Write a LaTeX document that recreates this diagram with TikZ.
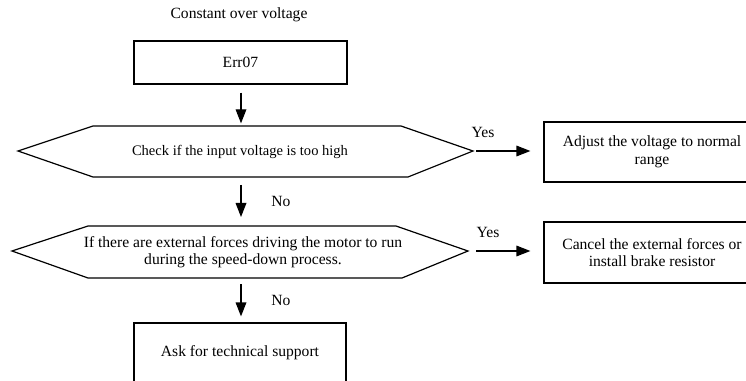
\documentclass[tikz,border=0pt]{standalone}
\usepackage{fontspec}
\setmainfont{Liberation Serif}
\usetikzlibrary{arrows.meta}
\tikzset{
  px/.style={x=0.75pt,y=-0.75pt},
  boxnode/.style={draw,line width=0.9pt,inner sep=0pt,align=center,font=\fontsize{11.7}{13.2}\selectfont},
  hexline/.style={draw,line width=0.9pt,line join=miter},
  txt/.style={inner sep=0pt,align=center,font=\fontsize{11.7}{13.2}\selectfont},
  flow/.style={line width=0.9pt,-{Triangle[length=10.5pt,width=8pt]}},
}
\begin{document}
\begin{tikzpicture}[px]
\useasboundingbox (0,0) rectangle (746,381);
\clip (0,0) rectangle (746,381);
% title
\node[txt] (title) at (239,15) {Constant over voltage};
% boxes
\node[boxnode,minimum width=159.75pt,minimum height=32.25pt] (b1) at (240.5,62.5) {Err07};
\node[boxnode,minimum width=162pt,minimum height=45pt] (b2) at (652,152) {Adjust the voltage to normal\\range};
\node[boxnode,minimum width=162pt,minimum height=45.75pt] (b3) at (652,252.5) {Cancel the external forces or\\install brake resistor};
\node[boxnode,minimum width=159pt,minimum height=45pt] (b4) at (240,353) {Ask for technical support};
% hexagon 1
\draw[hexline] (18,151) -- (93,126) -- (401,126) -- (473,151) -- (408,177) -- (93,177) -- cycle;
\node[txt,font=\fontsize{10.9}{12.5}\selectfont] (h1) at (240,152) {Check if the input voltage is too high};
\coordinate (h1t) at (241,126);
\coordinate (h1b) at (241,177);
\coordinate (h1r) at (473,151);
% hexagon 2
\draw[hexline] (12,251) -- (88,226) -- (396,226) -- (468,251) -- (402,278) -- (88,278) -- cycle;
\node[txt] (h2) at (243,252) {If there are external forces driving the motor to run\\during the speed-down process.};
\coordinate (h2t) at (241,226);
\coordinate (h2b) at (241,278);
\coordinate (h2r) at (468,251);
% connectors
\draw[flow,shorten <=6pt,shorten >=2pt] (b1.south -| h1t) -- (h1t);
\draw[flow,shorten <=6pt,shorten >=6.75pt] (h1b) -- (h2t);
\draw[flow,shorten <=4.5pt,shorten >=4.5pt] (h2b) -- (b4.north -| h2b);
\draw[flow,shorten <=2.25pt,shorten >=9.75pt] (h1r) -- (b2.west |- h1r);
\draw[flow,shorten <=6pt,shorten >=9.75pt] (h2r) -- (b3.west |- h2r);
% labels
\node[txt] (y1) at (483,132) {Yes};
\node[txt] (y2) at (488,232) {Yes};
\node[txt] (n1) at (281,201) {No};
\node[txt] (n2) at (281,300) {No};
\end{tikzpicture}
\end{document}
